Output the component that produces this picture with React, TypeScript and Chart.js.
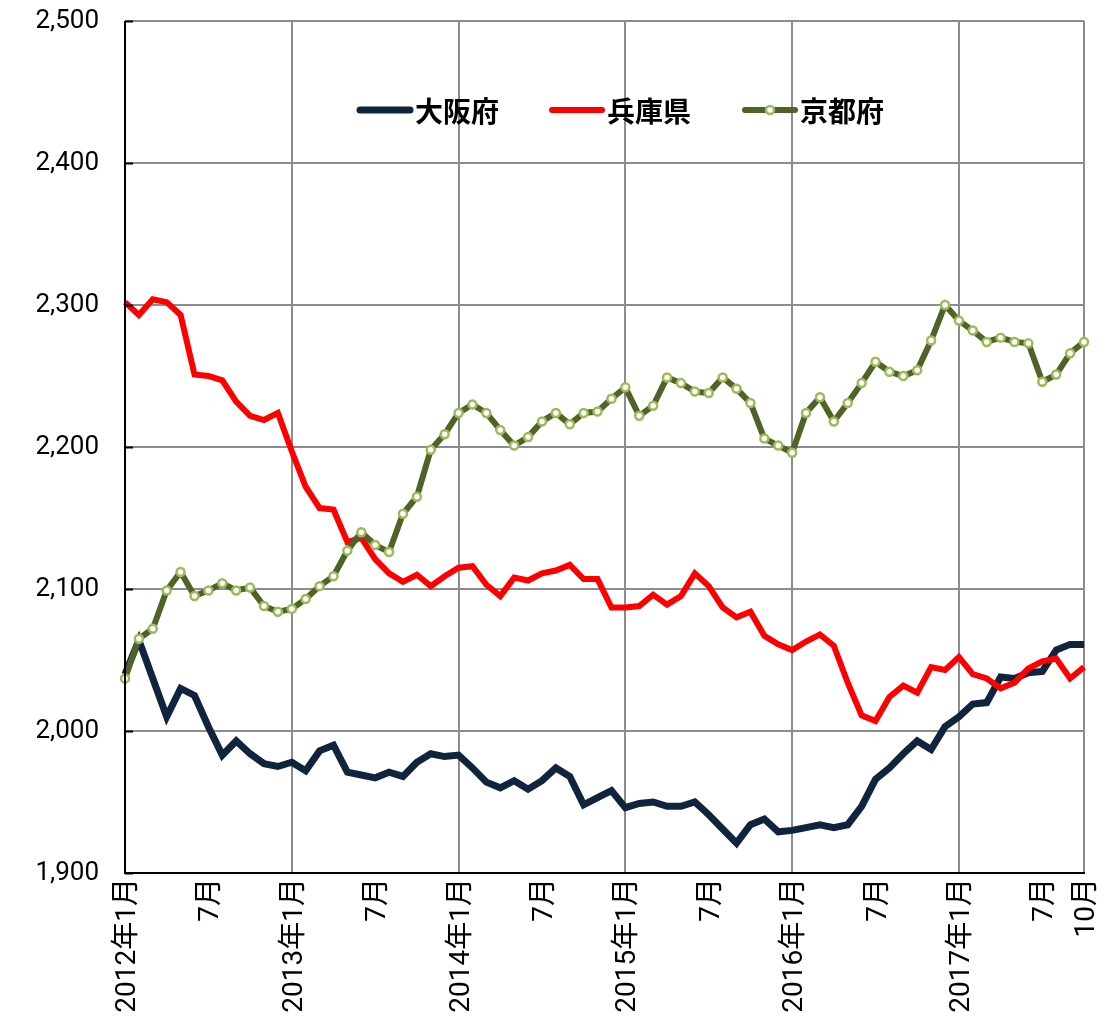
import React, { useEffect, useRef } from 'react';
import { Chart, registerables } from 'chart.js';

Chart.register(...registerables);

const categories: string[] = [
  '2012年1月', '2012年2月', '2012年3月', '2012年4月', '2012年5月', '2012年6月', '2012年7月', '2012年8月', '2012年9月', '2012年10月', '2012年11月', '2012年12月',
  '2013年1月', '2013年2月', '2013年3月', '2013年4月', '2013年5月', '2013年6月', '2013年7月', '2013年8月', '2013年9月', '2013年10月', '2013年11月', '2013年12月',
  '2014年1月', '2014年2月', '2014年3月', '2014年4月', '2014年5月', '2014年6月', '2014年7月', '2014年8月', '2014年9月', '2014年10月', '2014年11月', '2014年12月',
  '2015年1月', '2015年2月', '2015年3月', '2015年4月', '2015年5月', '2015年6月', '2015年7月', '2015年8月', '2015年9月', '2015年10月', '2015年11月', '2015年12月',
  '2016年1月', '2016年2月', '2016年3月', '2016年4月', '2016年5月', '2016年6月', '2016年7月', '2016年8月', '2016年9月', '2016年10月', '2016年11月', '2016年12月',
  '2017年1月', '2017年2月', '2017年3月', '2017年4月', '2017年5月', '2017年6月', '2017年7月', '2017年8月', '2017年9月', '2017年10月',
];

const seriesNames: string[] = ['大阪府', '兵庫県', '京都府'];

const osaka: number[] = [
  2040, 2064, 2037, 2010, 2030, 2025, 2003, 1983, 1993, 1984, 1977, 1975,
  1978, 1972, 1986, 1990, 1971, 1969, 1967, 1971, 1968, 1978, 1984, 1982,
  1983, 1974, 1964, 1960, 1965, 1959, 1965, 1974, 1968, 1948, 1953, 1958,
  1946, 1949, 1950, 1947, 1947, 1950, 1941, 1931, 1921, 1934, 1938, 1929,
  1930, 1932, 1934, 1932, 1934, 1947, 1966, 1974, 1984, 1993, 1987, 2003,
  2010, 2019, 2020, 2038, 2037, 2041, 2042, 2057, 2061, 2061,
];

const hyogo: number[] = [
  2302, 2293, 2304, 2302, 2293, 2251, 2250, 2247, 2232, 2222, 2219, 2224,
  2197, 2172, 2157, 2156, 2133, 2136, 2121, 2111, 2105, 2110, 2102, 2109,
  2115, 2116, 2103, 2095, 2108, 2106, 2111, 2113, 2117, 2107, 2107, 2087,
  2087, 2088, 2096, 2089, 2095, 2111, 2102, 2087, 2080, 2084, 2067, 2061,
  2057, 2063, 2068, 2060, 2034, 2011, 2007, 2024, 2032, 2027, 2045, 2043,
  2052, 2040, 2037, 2030, 2034, 2044, 2049, 2051, 2037, 2045,
];

const kyoto: number[] = [
  2037, 2065, 2072, 2099, 2112, 2095, 2099, 2104, 2099, 2101, 2088, 2084,
  2086, 2093, 2102, 2109, 2127, 2140, 2131, 2126, 2153, 2165, 2198, 2209,
  2224, 2230, 2224, 2212, 2201, 2207, 2218, 2224, 2216, 2224, 2225, 2234,
  2242, 2222, 2229, 2249, 2245, 2239, 2238, 2249, 2241, 2231, 2206, 2201,
  2196, 2224, 2235, 2218, 2231, 2245, 2260, 2253, 2250, 2254, 2275, 2300,
  2289, 2282, 2274, 2277, 2274, 2273, 2246, 2251, 2266, 2274,
];

const yMin = 1900;
const yMax = 2500;
const yStep = 100;

function xTickLabel(index: number): string {
  const c = categories[index];
  if (!c) return '';
  const m = c.match(/^(\d+)年(\d+)月$/);
  if (!m) return c;
  const month = Number(m[2]);
  if (month === 1) return c;
  if (index === categories.length - 1) return `${month}月`;
  if (month === 7) return '7月';
  return '';
}

const innerTicksPlugin = {
  id: 'innerTicks',
  afterDraw(chart: any) {
    const { ctx, chartArea } = chart;
    const y = chart.scales.y;
    ctx.save();
    ctx.strokeStyle = '#000000';
    ctx.lineWidth = 2;
    ctx.beginPath();
    ctx.moveTo(chartArea.left, chartArea.top);
    ctx.lineTo(chartArea.left, chartArea.bottom);
    ctx.stroke();
    y.ticks.forEach((t: any) => {
      const py = Math.round(y.getPixelForValue(t.value)) + 0.5;
      ctx.beginPath();
      ctx.moveTo(chartArea.left, py);
      ctx.lineTo(chartArea.left + 8, py);
      ctx.stroke();
    });
    ctx.restore();
  },
};

const legendPlugin = {
  id: 'innerLegend',
  afterDraw(chart: any) {
    const { ctx } = chart;
    const ds = chart.data.datasets;
    const positions = [360, 552, 745];
    const cy = 110;
    ctx.save();
    ctx.font = 'bold 28px "Noto Sans CJK JP"';
    ctx.textBaseline = 'middle';
    ctx.textAlign = 'left';
    positions.forEach((px, i) => {
      const d = ds[i];
      ctx.strokeStyle = d.borderColor;
      ctx.lineWidth = d.borderWidth;
      ctx.lineCap = 'round';
      ctx.beginPath();
      ctx.moveTo(px, cy);
      ctx.lineTo(px + 50, cy);
      ctx.stroke();
      if (d.pointRadius > 0) {
        ctx.beginPath();
        ctx.arc(px + 25, cy, d.pointRadius, 0, Math.PI * 2);
        ctx.fillStyle = d.pointBackgroundColor;
        ctx.fill();
        ctx.lineWidth = d.pointBorderWidth;
        ctx.strokeStyle = d.pointBorderColor;
        ctx.stroke();
      }
      ctx.fillStyle = '#000000';
      ctx.fillText(d.label, px + 55, cy + 1);
    });
    ctx.restore();
  },
};

export default function App() {
  const canvasRef = useRef<HTMLCanvasElement | null>(null);

  useEffect(() => {
    if (!canvasRef.current) return;
    const chart = new Chart(canvasRef.current, {
      type: 'line',
      data: {
        labels: categories,
        datasets: [
          {
            label: seriesNames[0],
            data: osaka,
            borderColor: '#10243E',
            backgroundColor: '#10243E',
            borderWidth: 7,
            pointRadius: 0,
            tension: 0,
            order: 2,
          },
          {
            label: seriesNames[1],
            data: hyogo,
            borderColor: '#FF0000',
            backgroundColor: '#FF0000',
            borderWidth: 6,
            pointRadius: 0,
            tension: 0,
            order: 1,
          },
          {
            label: seriesNames[2],
            data: kyoto,
            borderColor: '#4F6228',
            backgroundColor: '#4F6228',
            borderWidth: 6,
            pointRadius: 4,
            pointBackgroundColor: '#FFFFFF',
            pointBorderColor: '#9BBB59',
            pointBorderWidth: 2.5,
            tension: 0,
            order: 0,
          },
        ],
      },
      options: {
        animation: false,
        responsive: true,
        maintainAspectRatio: false,
        layout: { padding: { top: 21, right: 22, left: 0, bottom: 0 } },
        plugins: {
          legend: { display: false },
          tooltip: { enabled: false },
        },
        scales: {
          x: {
            type: 'category',
            offset: false,
            grid: {
              drawTicks: false,
              lineWidth: 2,
              color: (ctx: any) => {
                const i = ctx.index;
                if (i === 0) return 'rgba(0,0,0,0)';
                if (i % 12 === 0 || i === categories.length - 1) return '#8C8C8C';
                return 'rgba(0,0,0,0)';
              },
            },
            border: { display: true, color: '#000000', width: 2 },
            ticks: {
              autoSkip: false,
              maxRotation: 90,
              minRotation: 90,
              padding: 5,
              labelOffset: 3,
              color: '#000000',
              font: { family: 'Roboto, "Noto Sans CJK JP"', size: 28 },
              callback: (_v: any, index: number) => xTickLabel(index),
            },
            afterFit: (scale: any) => {
              scale.height = 152;
              scale.paddingLeft = 0;
              scale.paddingRight = 0;
            },
          },
          y: {
            min: yMin,
            max: yMax,
            grid: {
              drawTicks: false,
              lineWidth: 2,
              color: '#8C8C8C',
            },
            border: { display: false },
            ticks: {
              stepSize: yStep,
              padding: 26,
              color: '#000000',
              font: { family: 'Roboto', size: 26 },
              callback: (v: any) => Number(v).toLocaleString('en-US'),
            },
            afterFit: (scale: any) => {
              scale.width = 125;
              scale.paddingTop = 0;
              scale.paddingBottom = 0;
            },
          },
        },
      },
      plugins: [innerTicksPlugin, legendPlugin],
    });
    return () => chart.destroy();
  }, []);

  return (
    <div style={{ position: 'fixed', left: 0, top: 0, width: 1106, height: 1025, background: '#FFFFFF' }}>
      <canvas ref={canvasRef} />
    </div>
  );
}
